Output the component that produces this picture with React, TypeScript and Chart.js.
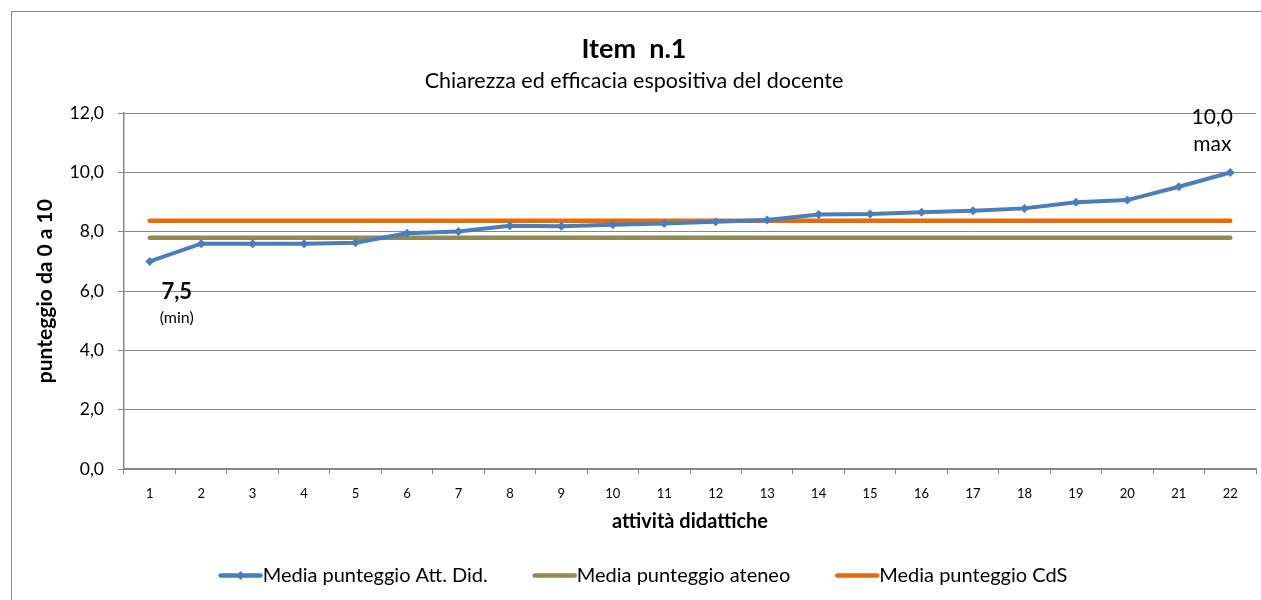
import React, { useEffect, useRef } from "react";
import { Chart, registerables } from "chart.js";

Chart.register(...registerables);

const categories = ["1", "2", "3", "4", "5", "6", "7", "8", "9", "10", "11", "12", "13", "14", "15", "16", "17", "18", "19", "20", "21", "22"];
const mediaAttDid = [7.0, 7.6, 7.6, 7.6, 7.63, 7.95, 8.01, 8.2, 8.19, 8.24, 8.28, 8.34, 8.4, 8.58, 8.6, 8.66, 8.71, 8.79, 9.0, 9.07, 9.52, 10.0];
const mediaAteneo = [7.8, 7.8, 7.8, 7.8, 7.8, 7.8, 7.8, 7.8, 7.8, 7.8, 7.8, 7.8, 7.8, 7.8, 7.8, 7.8, 7.8, 7.8, 7.8, 7.8, 7.8, 7.8];
const mediaCdS = [8.37, 8.37, 8.37, 8.37, 8.37, 8.37, 8.37, 8.37, 8.37, 8.37, 8.37, 8.37, 8.37, 8.37, 8.37, 8.37, 8.37, 8.37, 8.37, 8.37, 8.37, 8.37];
const seriesNames = ["Media punteggio Att. Did.", "Media punteggio ateneo", "Media punteggio CdS"];
const seriesColors = ["#4A7EBB", "#948A54", "#E46C0A"];
const minLabel = ["7,5", "(min)"];
const maxLabel = ["10,0", "max"];

const FONT = "Lato, 'Open Sans', sans-serif";

const annotationPlugin = {
  id: "minMaxLabels",
  afterDatasetsDraw(chart: any) {
    const ctx = chart.ctx;
    const meta = chart.getDatasetMeta(0);
    const first = meta.data[0];
    const last = meta.data[meta.data.length - 1];
    ctx.save();
    ctx.fillStyle = "#000";
    ctx.textAlign = "center";
    ctx.textBaseline = "middle";
    ctx.font = `bold 22px ${FONT}`;
    ctx.fillText(minLabel[0], first.x + 27, first.y + 30);
    ctx.font = `16px ${FONT}`;
    ctx.fillText(minLabel[1], first.x + 27, first.y + 56);
    ctx.font = `21px ${FONT}`;
    ctx.fillText(maxLabel[0], last.x - 18, last.y - 55);
    ctx.fillText(maxLabel[1], last.x - 18, last.y - 28);
    ctx.restore();
  },
};

const legendPlugin = {
  id: "customLegend",
  afterDraw(chart: any) {
    const ctx = chart.ctx;
    const sample = 44;
    const gap = 45;
    const y = 563.5;
    ctx.save();
    ctx.font = `20px ${FONT}`;
    const widths = seriesNames.map((n) => sample + ctx.measureText(n).width);
    const total = widths.reduce((a, b) => a + b, 0) + gap * (widths.length - 1);
    let x = chart.width / 2 - total / 2;
    chart.data.datasets.forEach((ds: any, i: number) => {
      ctx.strokeStyle = ds.borderColor;
      ctx.lineWidth = 4.5;
      ctx.lineCap = "round";
      ctx.beginPath();
      ctx.moveTo(x + 2, y);
      ctx.lineTo(x + sample - 2, y);
      ctx.stroke();
      if (ds.pointRadius > 0) {
        ctx.fillStyle = ds.borderColor;
        ctx.beginPath();
        ctx.moveTo(x + sample / 2, y - 4.5);
        ctx.lineTo(x + sample / 2 + 4.5, y);
        ctx.lineTo(x + sample / 2, y + 4.5);
        ctx.lineTo(x + sample / 2 - 4.5, y);
        ctx.closePath();
        ctx.fill();
      }
      ctx.fillStyle = "#000";
      ctx.textAlign = "left";
      ctx.textBaseline = "middle";
      ctx.fillText(seriesNames[i], x + sample, y);
      x += widths[i] + gap;
    });
    ctx.restore();
  },
};

export default function App() {
  const ref = useRef<HTMLCanvasElement | null>(null);

  useEffect(() => {
    if (!ref.current) return;
    const chart = new Chart(ref.current, {
      type: "line",
      data: {
        labels: categories,
        datasets: [
          {
            label: seriesNames[0],
            data: mediaAttDid,
            borderColor: seriesColors[0],
            backgroundColor: seriesColors[0],
            borderWidth: 4,
            pointStyle: "rectRot",
            pointRadius: 4.5,
            pointBorderWidth: 0,
            pointBackgroundColor: seriesColors[0],
            tension: 0,
            order: 0,
          },
          {
            label: seriesNames[1],
            data: mediaAteneo,
            borderColor: seriesColors[1],
            backgroundColor: seriesColors[1],
            borderWidth: 4.5,
            borderCapStyle: "round",
            pointRadius: 0,
            order: 2,
          },
          {
            label: seriesNames[2],
            data: mediaCdS,
            borderColor: seriesColors[2],
            backgroundColor: seriesColors[2],
            borderWidth: 4.5,
            borderCapStyle: "round",
            pointRadius: 0,
            order: 1,
          },
        ],
      },
      options: {
        animation: false,
        responsive: false,
        maintainAspectRatio: false,
        layout: { padding: { left: 0, right: 18, top: 0, bottom: 53 } },
        plugins: {
          legend: { display: false },
          tooltip: { enabled: false },
          title: {
            display: true,
            text: "Item  n.1",
            color: "#000",
            font: { family: FONT, size: 27, weight: "bold" },
            padding: { top: 21, bottom: 3 },
          },
          subtitle: {
            display: true,
            text: "Chiarezza ed efficacia espositiva del docente",
            color: "#000",
            font: { family: FONT, size: 21.5 },
            padding: { top: 0, bottom: 19 },
          },
        },
        scales: {
          x: {
            offset: true,
            grid: {
              display: true,
              drawOnChartArea: false,
              drawTicks: true,
              tickLength: 5,
              offset: true,
              color: "#868686",
            },
            border: { display: true, color: "#868686", width: 1.5 },
            ticks: {
              color: "#000",
              font: { family: FONT, size: 13 },
              padding: 12,
              maxRotation: 0,
              autoSkip: false,
            },
            title: {
              display: true,
              text: "attività didattiche",
              color: "#000",
              font: { family: FONT, size: 20, weight: "bold" },
              padding: { top: 0, bottom: 13 },
            },
            afterFit: (scale: any) => {
              scale.height = 78;
            },
          },
          y: {
            min: 0,
            max: 12,
            grid: {
              color: "#868686",
              lineWidth: 1,
              drawTicks: true,
              tickLength: 6,
            },
            border: { display: true, color: "#868686", width: 1.5 },
            ticks: {
              stepSize: 2,
              color: "#000",
              font: { family: FONT, size: 17.5 },
              padding: 14,
              callback: (v: any) => Number(v).toFixed(1).replace(".", ","),
            },
            title: {
              display: true,
              text: "punteggio da 0 a 10",
              color: "#000",
              font: { family: FONT, size: 21, weight: "bold" },
              padding: { top: 21, bottom: 0 },
            },
            afterFit: (scale: any) => {
              scale.width = 112;
            },
          },
        },
      },
      plugins: [annotationPlugin, legendPlugin],
    });
    return () => chart.destroy();
  }, []);

  return (
    <div
      style={{
        position: "fixed",
        left: 0,
        top: 0,
        width: 1261,
        height: 600,
        overflow: "hidden",
        background: "#fff",
      }}
    >
      <div
        style={{
          position: "absolute",
          left: 11,
          top: 11,
          width: 1262,
          height: 600,
          border: "1px solid #8a8a8a",
          background: "#fff",
        }}
      >
        <canvas ref={ref} width={1262} height={588} style={{ display: "block", width: 1262, height: 588 }} />
      </div>
    </div>
  );
}
